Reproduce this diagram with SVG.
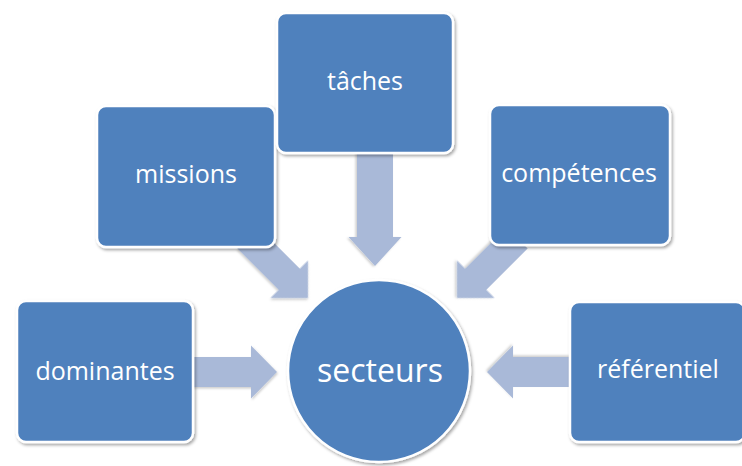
<svg xmlns="http://www.w3.org/2000/svg" width="742" height="466" viewBox="0 0 742 466">
  <defs>
    <filter id="sh" x="-10%" y="-10%" width="125%" height="125%">
      <feDropShadow dx="1.5" dy="2" stdDeviation="1.8" flood-color="#000" flood-opacity="0.35"/>
    </filter>
    <filter id="ash" x="-10%" y="-10%" width="125%" height="125%">
      <feDropShadow dx="1" dy="1.5" stdDeviation="1.2" flood-color="#000" flood-opacity="0.2"/>
    </filter>
  </defs>
  <style>
    .box { fill: #4F81BD; stroke: #FFFFFF; stroke-width: 2.5; filter: url(#sh); }
    .arrow { fill: #A9B9D8; filter: url(#ash); }
    .lbl { font-family: "Open Sans", "Noto Sans", "DejaVu Sans", sans-serif; font-size: 25px; fill: #FFFFFF; text-anchor: middle; }
    .big { font-size: 32px; }
  </style>
  <rect width="742" height="466" fill="#FFFFFF"/>

  <g id="connectors">
    <!-- dominantes -> secteurs -->
    <polygon class="arrow" points="-87,-15 -26,-15 -26,-26.5 0,0 -26,26.5 -26,15 -87,15" transform="translate(277,372)"/>
    <!-- referentiel -> secteurs -->
    <polygon class="arrow" points="-87,-15 -26,-15 -26,-26.5 0,0 -26,26.5 -26,15 -87,15" transform="translate(487,372) rotate(180)"/>
    <!-- missions -> secteurs -->
    <polygon class="arrow" points="-85,-15 -26.5,-15 -26.5,-26.5 0,0 -26.5,26.5 -26.5,15 -85,15" transform="translate(308,298) rotate(45)"/>
    <!-- competences -> secteurs -->
    <polygon class="arrow" points="-85,-15 -26.5,-15 -26.5,-26.5 0,0 -26.5,26.5 -26.5,15 -85,15" transform="translate(457,298) rotate(135)"/>
    <!-- taches -> secteurs -->
    <polygon class="arrow" points="-118,-18 -29,-18 -29,-26.5 0,0 -29,26.5 -29,18 -118,18" transform="translate(375,266) rotate(90)"/>
  </g>

  <g id="node-dominantes">
    <rect class="box" x="17" y="301" width="176" height="141" rx="9"/>
    <text class="lbl" x="105" y="380">dominantes</text>
  </g>
  <g id="node-missions">
    <rect class="box" x="97" y="106" width="178" height="141" rx="9"/>
    <text class="lbl" x="186" y="183">missions</text>
  </g>
  <g id="node-taches">
    <rect class="box" x="277" y="13" width="176" height="140" rx="9"/>
    <text class="lbl" x="365" y="90">tâches</text>
  </g>
  <g id="node-competences">
    <rect class="box" x="490" y="105" width="180" height="140" rx="9"/>
    <text class="lbl" x="579" y="182">compétences</text>
  </g>
  <g id="node-referentiel">
    <rect class="box" x="570" y="302" width="175" height="140" rx="9"/>
    <text class="lbl" x="658" y="378">référentiel</text>
  </g>
  <g id="node-secteurs">
    <circle class="box" cx="379" cy="371" r="91" stroke-width="3.5"/>
    <text class="lbl big" x="380" y="382">secteurs</text>
  </g>
</svg>
